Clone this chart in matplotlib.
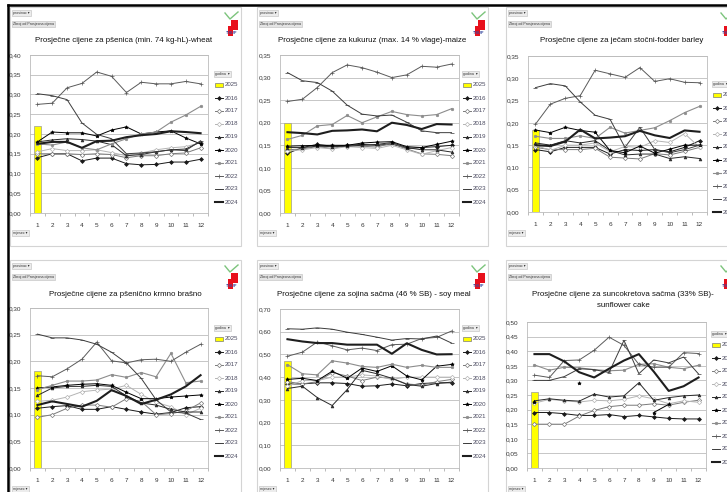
import numpy as np
import matplotlib
matplotlib.use('Agg')
import matplotlib.pyplot as plt
from matplotlib.lines import Line2D
from matplotlib.patches import Rectangle
from matplotlib.ticker import FuncFormatter, FixedLocator

W, H = 727, 492
plt.rcParams['font.family'] = ['Liberation Sans Narrow', 'Liberation Sans', 'DejaVu Sans']

months = list(range(1, 13))
years = [2016, 2017, 2018, 2019, 2020, 2021, 2022, 2023, 2024]
bar_year = 2025

titles = [
    "Prosječne cijene za pšenica (min. 74 kg-hL)-wheat",
    "Prosječne cijene za kukuruz (max. 14 % vlage)-maize",
    "Prosječne cijene za ječam stočni-fodder barley",
    "Prosječne cijene za pšenično krmno brašno",
    "Prosječne cijene za sojina sačma (46 % SB) - soy meal",
    "Prosječne cijene za suncokretova sačma (33% SB)-\nsunflower cake",
]
ymax = [0.40, 0.35, 0.35, 0.30, 0.70, 0.50]
ystep = [0.05, 0.05, 0.05, 0.05, 0.10, 0.05]
bar_2025 = [0.220, 0.199, 0.185, 0.181, 0.472, 0.260]

nan = np.nan
wheat = {
    2016: [0.140,0.150,0.150,0.132,0.139,0.139,0.125,0.122,0.123,0.129,0.129,0.136],
    2017: [0.150,0.150,0.150,0.148,0.150,0.148,0.140,0.145,0.145,0.150,0.152,0.165],
    2018: [0.155,0.163,0.158,0.158,0.160,0.153,0.145,0.152,0.160,0.165,0.168,0.178],
    2019: [0.180,0.185,0.188,0.186,0.182,0.173,0.145,0.148,0.155,0.160,0.162,0.180],
    2020: [0.180,0.205,0.203,0.203,0.195,0.210,0.218,0.200,0.205,0.208,0.190,0.175],
    2021: [0.175,0.172,0.180,0.165,0.160,0.175,0.188,0.200,0.205,0.230,0.248,0.270],
    2022: [0.275,0.278,0.317,0.328,0.357,0.346,0.305,0.331,0.327,0.327,0.333,0.327],
    2023: [0.302,0.297,0.287,0.228,0.199,0.188,0.150,0.152,0.155,0.160,0.158,0.183],
    2024: [0.175,0.180,0.180,0.165,0.182,0.183,0.192,0.197,0.200,0.207,0.205,0.202],
}
maize = {
    2016: [0.132,0.145,0.152,0.148,0.150,0.152,0.150,0.153,0.143,0.145,0.147,0.150],
    2017: [0.140,0.142,0.147,0.143,0.149,0.148,0.146,0.155,0.142,0.131,0.130,0.127],
    2018: [0.137,0.140,0.145,0.142,0.147,0.145,0.143,0.150,0.140,0.130,0.138,0.145],
    2019: [0.145,0.145,0.148,0.147,0.148,0.150,0.152,0.156,0.145,0.140,0.140,0.135],
    2020: [0.148,0.149,0.150,0.150,0.150,0.155,0.157,0.158,0.147,0.145,0.152,0.159],
    2021: [0.163,0.172,0.193,0.196,0.216,0.200,0.213,0.225,0.218,0.215,0.218,0.231],
    2022: [0.247,0.252,0.278,0.311,0.328,0.322,0.312,0.300,0.306,0.325,0.323,0.330],
    2023: [0.311,0.293,0.289,0.270,0.239,0.219,0.215,0.217,0.201,0.182,0.178,0.178],
    2024: [0.179,0.177,0.174,0.182,0.183,0.185,0.181,0.200,0.195,0.186,0.197,0.196],
}
barley = {
    2016: [0.140,0.135,0.145,0.145,0.145,0.130,0.140,0.138,0.140,0.135,0.145,0.160],
    2017: [0.145,0.140,0.140,0.140,0.143,0.123,0.121,0.119,0.131,0.128,0.136,0.145],
    2018: [0.150,0.138,0.150,0.150,0.155,0.135,0.147,0.145,0.160,0.156,0.176,0.145],
    2019: [0.155,0.150,0.160,0.155,0.160,0.138,0.128,0.130,0.130,0.120,0.124,0.120],
    2020: [0.184,0.178,0.190,0.183,0.179,0.138,0.133,0.148,0.132,0.141,0.150,0.150],
    2021: [0.170,0.165,0.165,0.171,0.165,0.190,0.177,0.183,0.189,0.205,0.223,0.237],
    2022: [0.197,0.242,0.255,0.261,0.318,0.310,0.302,0.324,0.293,0.299,0.291,0.290],
    2023: [0.279,0.288,0.283,0.247,0.217,0.208,0.145,0.190,0.140,0.133,0.140,0.150],
    2024: [0.150,0.148,0.158,0.185,0.165,0.167,0.170,0.182,0.172,0.166,0.183,0.180],
}
flour = {
    2016: [0.112,0.115,0.117,0.110,0.110,0.115,0.110,0.105,0.101,0.104,0.113,0.115],
    2017: [0.095,0.100,0.112,0.118,0.118,0.114,0.130,0.125,0.100,0.102,0.107,0.122],
    2018: [0.125,0.127,0.133,0.143,0.146,0.148,0.155,0.138,0.123,0.115,0.100,0.112],
    2019: [0.136,0.150,0.153,0.153,0.155,0.153,0.135,0.122,0.118,0.110,0.105,0.105],
    2020: [0.150,0.152,0.155,0.157,0.158,0.155,0.142,0.130,0.130,0.133,0.135,0.137],
    2021: [0.147,0.155,0.163,0.163,0.165,0.175,0.170,0.179,0.171,0.215,0.160,0.163],
    2022: [0.173,0.171,0.186,0.204,0.236,0.201,0.197,0.203,0.204,0.200,0.217,0.232],
    2023: [0.251,0.244,0.244,0.240,0.232,0.217,0.197,0.168,0.128,0.105,0.103,0.091],
    2024: [0.118,0.125,0.120,0.115,0.126,0.146,0.135,0.120,0.128,0.138,0.153,0.174],
}
soy = {
    2016: [0.370,0.370,0.375,0.375,0.372,0.360,0.362,0.370,0.362,0.372,0.375,0.375],
    2017: [0.380,0.370,0.380,0.420,0.405,0.385,0.400,0.395,0.370,0.365,0.380,0.390],
    2018: [0.360,0.385,0.385,0.400,0.400,0.410,0.405,0.390,0.400,0.400,0.400,0.400],
    2019: [0.350,0.360,0.310,0.275,0.345,0.430,0.415,0.395,0.368,0.360,0.372,0.378],
    2020: [0.390,0.395,0.385,0.426,0.395,0.440,0.425,0.450,0.405,0.388,0.448,0.456],
    2021: [0.455,0.415,0.410,0.472,0.462,0.447,0.443,0.457,0.443,0.452,0.443,0.443],
    2022: [0.492,0.510,0.555,0.538,0.520,0.528,0.517,0.543,0.545,0.570,0.575,0.603],
    2023: [0.613,0.611,0.617,0.611,0.598,0.588,0.576,0.563,0.570,0.568,0.581,0.550],
    2024: [0.567,0.557,0.550,0.550,0.543,0.543,0.543,0.503,0.549,0.520,0.500,0.501],
}
sunflower = {
    2016: [0.190,0.190,0.186,0.180,0.180,0.183,0.176,0.180,0.175,0.170,0.168,0.168],
    2017: [0.150,0.150,0.150,0.178,0.197,0.210,0.215,0.215,0.220,0.215,0.225,0.232],
    2018: [0.222,0.235,0.230,0.226,0.232,0.230,0.235,0.247,0.237,0.220,0.230,0.225],
    2019: [0.230,0.237,0.232,0.229,0.253,0.243,0.247,0.292,0.232,0.241,0.247,0.250],
    2020: [0.225,nan,nan,0.290,nan,nan,nan,nan,0.190,0.218,nan,nan],
    2021: [0.353,0.335,0.345,0.343,0.337,0.333,0.335,0.355,0.357,0.345,0.340,0.352],
    2022: [0.318,0.310,0.368,0.370,0.403,0.448,0.420,0.355,0.345,0.345,0.395,0.392],
    2023: [0.300,0.300,0.313,0.340,0.337,0.327,0.437,0.323,0.370,0.360,0.380,0.322],
    2024: [0.390,0.390,0.365,0.328,0.310,0.340,0.368,0.390,0.330,0.264,0.280,0.310],
}
panel_data = [wheat, maize, barley, flour, soy, sunflower]

# styles per year
styles = {
    2016: dict(color='#1a1a1a', marker='D', ms=2.0, mfc='#1a1a1a', lw=0.7),
    2017: dict(color='#7a7a7a', marker='D', ms=2.2, mfc='white', lw=0.7),
    2018: dict(color='#b4b4b4', marker='D', ms=2.2, mfc='white', lw=0.7),
    2019: dict(color='#2a2a2a', marker='^', ms=2.0, mfc='#2a2a2a', lw=0.7),
    2020: dict(color='#000000', marker='*', ms=2.6, mfc='#000000', lw=0.7),
    2021: dict(color='#8c8c8c', marker='o', ms=1.8, mfc='#8c8c8c', lw=0.8),
    2022: dict(color='#5a5a5a', marker='+', ms=2.8, mfc='#5a5a5a', lw=0.7),
    2023: dict(color='#3c3c3c', marker='_', ms=2.8, mfc='#3c3c3c', lw=0.7),
    2024: dict(color='#1e1e1e', marker=None, ms=0, mfc='#1e1e1e', lw=1.5),
}

# layout (pixels): panel frame, plot area, legend, title
panels = [
    dict(frame=(10, 7, 241, 246), plot=(30, 55, 208, 213), leg=(215, 85), title=(124, 40)),
    dict(frame=(257, 7, 488, 246), plot=(280, 55, 459, 213), leg=(463, 85), title=(372, 40)),
    dict(frame=(506, 7, 760, 246), plot=(528, 56, 707, 212), leg=(713, 95), title=(622, 41)),
    dict(frame=(10, 260, 241, 520), plot=(30, 308, 208, 468), leg=(215, 339), title=(125, 294)),
    dict(frame=(257, 260, 488, 520), plot=(280, 309, 459, 468), leg=(463, 339), title=(374, 294)),
    dict(frame=(506, 260, 760, 520), plot=(527, 322, 706, 468), leg=(712, 345), title=(623, 300)),
]

fig = plt.figure(figsize=(W / 100, H / 100), dpi=100)
fig.patch.set_facecolor('white')
T = fig.transFigure

def fx(x):
    return x / W

def fy(y):
    return 1 - y / H

def frect(x0, y0, x1, y1, **kw):
    r = Rectangle((fx(x0), fy(y1)), (x1 - x0) / W, (y1 - y0) / H, transform=T, **kw)
    fig.add_artist(r)
    return r

def fline(xs, ys, **kw):
    l = Line2D([fx(x) for x in xs], [fy(y) for y in ys], transform=T, **kw)
    fig.add_artist(l)
    return l

fmt = FuncFormatter(lambda v, p: f"{v:.2f}".replace('.', ','))

btn = dict(boxstyle='square,pad=0.3', fc='#ececec', ec='#bdbdbd', lw=0.4)

for i, p in enumerate(panels):
    fx0, fy0, fx1, fy1 = p['frame']
    frect(fx0, fy0, fx1, fy1, facecolor='white', edgecolor='#d4d4d4', lw=0.8, zorder=0)

    # small pivot buttons
    fig.text(fx(fx0 + 3), fy(fy0 + 6), "prosinac ▾", fontsize=2.6, color='#333333',
             va='center', ha='left', bbox=btn)
    fig.text(fx(fx0 + 3), fy(fy0 + 17), "Zbroj od Prosjecna cijena", fontsize=2.6,
             color='#333333', va='center', ha='left',
             bbox=dict(boxstyle='square,pad=0.3', fc='#e4e4e4', ec='#bdbdbd', lw=0.4))
    fig.text(fx(fx0 + 3), fy(fy0 + (226 if i < 3 else 229)), "mjesec ▾", fontsize=2.6,
             color='#333333', va='center', ha='left', bbox=btn)

    # logo
    lx = fx0 + 215
    fline([lx, lx + 5, lx + 13], [fy0 + 6, fy0 + 12, fy0 + 5], color='#7cc47c', lw=1.0)
    frect(lx + 6, fy0 + 13, lx + 13, fy0 + 23, facecolor='#e8101c', edgecolor='none')
    frect(lx + 3, fy0 + 19, lx + 8, fy0 + 29, facecolor='#e8101c', edgecolor='none')
    fig.text(fx(lx + 7), fy(fy0 + 26), "TISUP", fontsize=2.8, color='#3a4aa0',
             ha='center', va='center', fontweight='bold')

    # plot area
    x0, y0, x1, y1 = p['plot']
    ax = fig.add_axes([fx(x0), fy(y1), (x1 - x0) / W, (y1 - y0) / H])
    ax.set_facecolor('white')
    data = panel_data[i]
    ax.bar([1], [bar_2025[i]], width=0.42, color='#ffff00', edgecolor='#9a9a9a', lw=0.5, zorder=2)
    for yr in years:
        s = styles[yr]
        ax.plot(months, data[yr], color=s['color'], lw=s['lw'], marker=s['marker'],
                ms=s['ms'], mfc=s['mfc'], mec=s['color'], mew=0.5, zorder=3)
    ax.set_xlim(0.5, 12.5)
    ax.set_ylim(0, ymax[i])
    ax.set_yticks(np.round(np.arange(0, ymax[i] + 1e-9, ystep[i]), 2))
    ax.yaxis.set_major_formatter(fmt)
    ax.set_xticks(months)
    ax.xaxis.set_minor_locator(FixedLocator(np.arange(0.5, 13, 1.0)))
    ax.tick_params(axis='x', which='major', length=0, labelsize=4.6, pad=7, colors='#333333')
    ax.tick_params(axis='x', which='minor', length=2.5, width=0.5, color='#a0a0a0')
    ax.tick_params(axis='y', which='major', length=0, labelsize=4.6, pad=6, colors='#333333')
    ax.grid(axis='y', color='#c6c6c6', lw=0.7, zorder=0)
    ax.set_axisbelow(True)
    for sp in ax.spines.values():
        sp.set_color('#bcbcbc')
        sp.set_linewidth(0.6)

    # title
    tx, ty = p['title']
    fig.text(fx(tx), fy(ty), titles[i], fontsize=5.7, color='#111111', ha='center',
             va='center', linespacing=1.7)

    # manual legend
    lgx, lgy = p['leg']
    fig.text(fx(lgx), fy(lgy - 11), "godina  ▾", fontsize=2.6, color='#333333', va='center',
             ha='left', bbox=btn)
    entries = [bar_year] + years
    for k, yr in enumerate(entries):
        yy = lgy + 13 * k
        if yr == bar_year:
            frect(lgx, yy - 2, lgx + 8, yy + 2, facecolor='#ffff00', edgecolor='#7a7a7a', lw=0.5)
        else:
            s = styles[yr]
            fline([lgx, lgx + 8], [yy, yy], color=s['color'], lw=s['lw'])
            if s['marker']:
                fline([lgx + 4], [yy], color=s['color'], lw=0, marker=s['marker'], ms=s['ms'],
                      mfc=s['mfc'], mec=s['color'], mew=0.5)
        fig.text(fx(lgx + 10), fy(yy), str(yr), fontsize=4.4, color='#4a4a60',
                 va='center', ha='left')

# black outer lines
fline([8, 727], [5, 5], color='black', lw=1.8)
fline([8, 8], [5, 492], color='black', lw=1.8)

fig.savefig('out.png', dpi=100)
